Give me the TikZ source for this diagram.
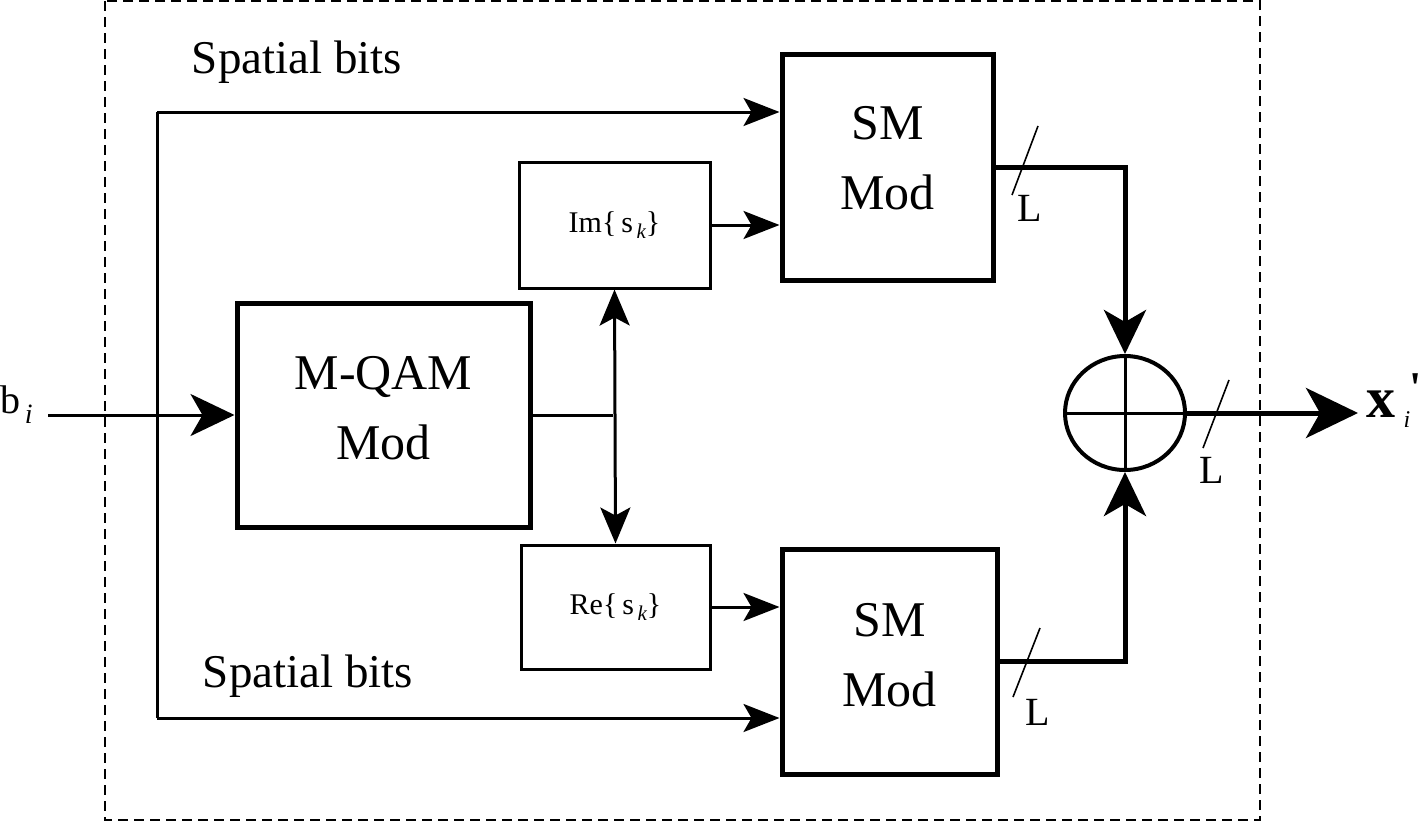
\documentclass[tikz,border=0pt]{standalone}
\usepackage{fontspec}
\setmainfont{Liberation Serif}
\usetikzlibrary{arrows.meta,shapes.geometric}
\begin{document}
\begin{tikzpicture}[x=1pt,y=-1pt,
  thickbox/.style={draw,line width=5pt,inner sep=0pt,align=center,font=\fontsize{50}{70}\selectfont},
  thinbox/.style={draw,line width=3pt,inner sep=0pt,font=\fontsize{30}{34}\selectfont},
  wire/.style={line width=3pt},
  bus/.style={line width=5pt},
  tipS/.style={-{Stealth[length=36pt,width=28pt,inset=8pt]}},
  tipM/.style={-{Stealth[length=44pt,width=42pt,inset=12pt]}},
  tipL/.style={-{Stealth[length=52pt,width=50pt,inset=14pt]}},
  slash/.style={line width=1.6pt},
  lbl/.style={inner sep=0pt,font=\fontsize{40}{44}\selectfont},
  sbits/.style={inner sep=0pt,font=\fontsize{47}{50}\selectfont}]
\useasboundingbox (0,0) rectangle (1420,822);
% frame
\draw[line width=1.5pt,dash pattern=on 10pt off 6pt] (105,1) rectangle (1260,820);
% blocks
\node[thickbox,minimum width=293pt,minimum height=224pt] (mqam) at (383.5,415) {};
\node[thinbox,minimum width=191pt,minimum height=126pt] (im) at (614.5,225) {Im\{\,s\raisebox{-6pt}{\fontsize{21}{21}\selectfont\itshape\,k}\}};
\node[thinbox,minimum width=189pt,minimum height=124pt] (re) at (615.5,607) {Re\{\,s\raisebox{-6pt}{\fontsize{21}{21}\selectfont\itshape\,k}\}};
\node[thickbox,minimum width=211pt,minimum height=226pt] (smT) at (887.5,167) {};
\node[thickbox,minimum width=215pt,minimum height=225pt] (smB) at (889.5,661.5) {};
\node[inner sep=0pt,align=center,font=\fontsize{50}{70}\selectfont] (mqamtxt) at (383.5,408) {M-QAM\\Mod};
\node[inner sep=0pt,align=center,font=\fontsize{50}{70}\selectfont] (smTtxt) at (887.5,158) {SM\\Mod};
\node[inner sep=0pt,align=center,font=\fontsize{50}{70}\selectfont] (smBtxt) at (889.5,655) {SM\\Mod};
\node[draw,ellipse,line width=4pt,minimum width=120pt,minimum height=114pt,inner sep=0pt] (circ) at (1125,413) {};
\draw[line width=3pt] (circ.north) -- (circ.south);
\draw[line width=3pt] (circ.west) -- (circ.east);
% coordinates
\coordinate (in) at (48,415);
\coordinate (sbT) at (157,112);
\coordinate (sbB) at (157,718);
\coordinate (split) at (613,415);
\coordinate (out) at (1358,413);
% connectors
\draw[wire,tipM] (in) -- (mqam.west);
\draw[wire] (sbT) -- (sbB);
\draw[wire,tipS] (sbT) -- (smT.west |- sbT);
\draw[wire,tipS] (sbB) -- (smB.west |- sbB);
\draw[wire] (mqam.east) -- (split);
\draw[wire,{Stealth[length=36pt,width=30pt,inset=8pt]}-{Stealth[length=36pt,width=30pt,inset=8pt]}] (im.south) -- (re.north);
\draw[wire,tipS] (im.east) -- (smT.west |- im.east);
\draw[wire,tipS] (re.east) -- (smB.west |- re.east);
\draw[bus,tipM] (smT.east) -| (circ.north);
\draw[bus,tipM] (smB.east) -| (circ.south);
\draw[bus,tipL] (circ.east) -- (out);
% bus width marks
\draw[slash] (1038,126) -- (1012,195);
\draw[slash] (1040,628) -- (1013,697);
\draw[slash] (1229,380) -- (1203,448);
\node[lbl] (L1) at (1030,208) {L};
\node[lbl] (L2) at (1038,712) {L};
\node[lbl] (L3) at (1212,470) {L};
% labels
\node[sbits] (sp1) at (297,62) {Spatial bits};
\node[sbits] (sp2) at (308,676) {Spatial bits};
\node[lbl,anchor=west] (bi) at (0,405) {b\raisebox{-10pt}{\fontsize{28}{28}\selectfont\itshape\,i}};
\node[inner sep=0pt,anchor=west,font=\fontsize{58}{60}\selectfont\bfseries] (xi) at (1366,404) {x};
\node[inner sep=0pt,font=\fontsize{24}{24}\selectfont\itshape] (xsub) at (1407,420) {i};
\node[inner sep=0pt,font=\fontsize{44}{44}\selectfont\bfseries] (xpr) at (1416,388) {\textquotesingle};
\end{tikzpicture}
\end{document}
